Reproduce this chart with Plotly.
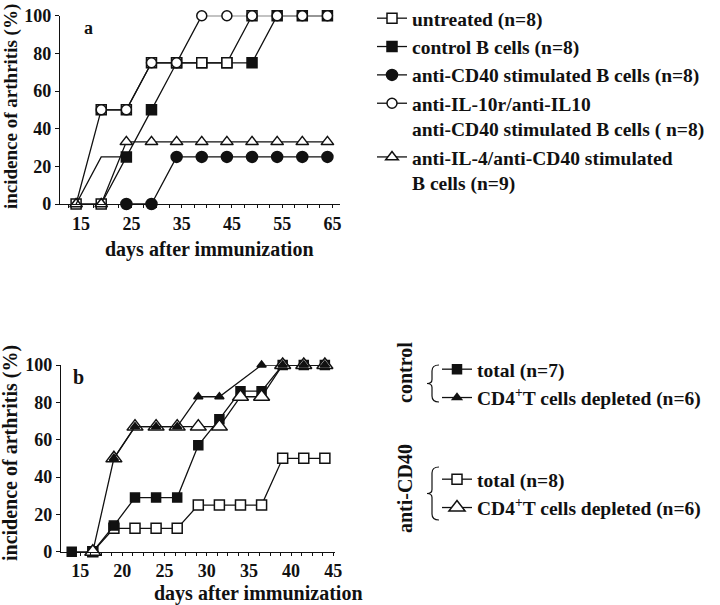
import plotly.graph_objects as go

# ---------------- data : panel a ----------------
days_a = [14, 19, 24, 29, 34, 39, 44, 49, 54, 59, 64]
untreated = [0, 50, 50, 75, 75, 75, 75, 100, None, None, None]
control_b = [None, 0, 25, 50, 75, 75, 75, 75, 100, 100, 100]
anti_cd40 = [None, None, 0, 0, 25, 25, 25, 25, 25, 25, 25]
anti_il10 = [None, 50, 50, 75, 75, 100, 100, 100, 100, 100, 100]
anti_il4 = [0, 0, 33, 33, 33, 33, 33, 33, 33, 33, 33]
stray_days = [14, 19, 24]
stray_vals = [0, 25, 25]
ticks_a = [15, 25, 35, 45, 55, 65]

# ---------------- data : panel b ----------------
days_b = [14, 16.5, 19, 21.5, 24, 26.5, 29, 31.5, 34, 36.5, 39, 41.5, 44]
ctrl_total = [0, 0, 14, 29, 29, 29, 57, 71, 86, 86, 100, 100, 100]
ctrl_cd4 = [None, None, 50, 67, 67, 67, 83, 83, None, 100, 100, 100, 100]
cd40_total = [None, 0, 12.5, 12.5, 12.5, 12.5, 25, 25, 25, 25, 50, 50, 50]
cd40_cd4 = [None, 0, 50, 67, 67, 67, 67, 67, 83, 83, 100, 100, 100]
ticks_b = [15, 20, 25, 30, 35, 40, 45]
yticks = [0, 20, 40, 60, 80, 100]

W, H = 720, 605
FONT = "Liberation Serif"
BLACK = "#111111"


def px(x):
    return x / W


def py(y):
    return 1 - y / H


fig = go.Figure()

LW = 1.3


def add(x, y, name, symbol, size, fill, xa, ya, legend, rank, mcolor=None):
    fig.add_trace(go.Scatter(
        x=x, y=y, name=name, mode="lines+markers", connectgaps=True,
        xaxis=xa, yaxis=ya, legend=legend, legendrank=rank,
        line=dict(color=BLACK, width=LW),
        marker=dict(symbol=symbol, size=size,
                    color=mcolor if mcolor is not None else fill,
                    line=dict(color=BLACK, width=1.5)),
        cliponaxis=False,
    ))


# panel a (draw order chosen to match overlaps)
# control series passed last-to-first so its legend symbol takes the filled style;
# its first point (day 19, hidden under the open symbols) is shown white as in the figure
ctrl_x = days_a[1:][::-1]
ctrl_y = control_b[1:][::-1]
ctrl_colors = [BLACK] * (len(ctrl_x) - 1) + ["white"]
add(ctrl_x, ctrl_y, "control B cells (n=8)", "square", 10, BLACK,
    "x", "y", "legend", 2, mcolor=ctrl_colors)
add(days_a, untreated, "untreated (n=8)", "square", 10, "white", "x", "y", "legend", 1)
add(days_a, anti_cd40, "anti-CD40 stimulated B cells (n=8)", "circle", 11, BLACK,
    "x", "y", "legend", 3)
add(days_a, anti_il10, "anti-IL-10r/anti-IL10<br>anti-CD40 stimulated B cells ( n=8)",
    "circle", 10, "white", "x", "y", "legend", 4)
add(days_a, anti_il4, "anti-IL-4/anti-CD40 stimulated<br>B cells (n=9)",
    "triangle-up", 11, "white", "x", "y", "legend", 5)
fig.add_trace(go.Scatter(x=stray_days, y=stray_vals, mode="lines", showlegend=False,
                         line=dict(color=BLACK, width=LW), xaxis="x", yaxis="y",
                         cliponaxis=False))

# panel b
add(days_b, cd40_total, "total (n=8)", "square", 10, "white", "x2", "y2", "legend3", 1)
add(days_b, ctrl_total, "total (n=7)", "square", 9, BLACK, "x2", "y2", "legend2", 1)
add(days_b, cd40_cd4, "CD4<sup>+</sup>T cells depleted (n=6)", "triangle-up", 14, "white",
    "x2", "y2", "legend3", 2)
add(days_b, ctrl_cd4, "CD4<sup>+</sup>T cells depleted (n=6)", "triangle-up", 8, BLACK,
    "x2", "y2", "legend2", 2)

tickfont = dict(family=FONT, size=18, color=BLACK, weight="bold")
axis_common = dict(showgrid=False, zeroline=False, showline=True, linecolor=BLACK,
                   linewidth=1.3, ticks="outside", tickcolor=BLACK, tickwidth=1.2,
                   tickfont=tickfont, fixedrange=True)

legfont = dict(family=FONT, size=19.5, color=BLACK, weight="bold")

fig.update_layout(
    width=W, height=H, margin=dict(l=0, r=0, t=0, b=0, autoexpand=False),
    paper_bgcolor="white", plot_bgcolor="white",
    font=dict(family=FONT, color=BLACK),
    xaxis=dict(domain=[px(60), px(340)], range=[10.8, 66.5], anchor="y",
               tickvals=ticks_a, ticklen=3,
               minor=dict(dtick=2.5, tick0=15, ticks="outside", ticklen=3,
                          tickcolor=BLACK), **axis_common),
    yaxis=dict(domain=[py(204), py(15.7)], range=[0, 100], anchor="x",
               tickvals=yticks, ticklen=4, **axis_common),
    xaxis2=dict(domain=[px(61), px(335)], range=[12.73, 45.2], anchor="y2",
                tickvals=ticks_b, ticklen=3,
                minor=dict(dtick=1.25, tick0=15, ticks="outside", ticklen=3,
                           tickcolor=BLACK), **axis_common),
    yaxis2=dict(domain=[py(551.7), py(365)], range=[0, 100], anchor="x2",
                tickvals=yticks, ticklen=4, **axis_common),
    legend=dict(x=px(372), y=py(-1), xanchor="left", yanchor="top",
                font=legfont, valign="top", itemsizing="trace",
                bgcolor="rgba(0,0,0,0)", traceorder="normal"),
    legend2=dict(x=px(437), y=py(350), xanchor="left", yanchor="top",
                 font=legfont, itemsizing="trace", bgcolor="rgba(0,0,0,0)"),
    legend3=dict(x=px(437), y=py(460), xanchor="left", yanchor="top",
                 font=legfont, itemsizing="trace", bgcolor="rgba(0,0,0,0)"),
)

bold20 = dict(family=FONT, size=20, color=BLACK, weight="bold")
ann = [
    dict(text="a", x=px(88), y=py(28), font=dict(family=FONT, size=18, color=BLACK, weight="bold")),
    dict(text="b", x=px(78), y=py(377), font=bold20),
    dict(text="incidence of arthritis (%)", x=px(11), y=py(107), textangle=-90,
         font=dict(family=FONT, size=19, color=BLACK, weight="bold")),
    dict(text="incidence of arthritis (%)", x=px(10), y=py(453), textangle=-90, font=bold20),
    dict(text="days after immunization", x=px(209), y=py(249), font=bold20),
    dict(text="days after immunization", x=px(258), y=py(593), font=bold20),
    dict(text="control", x=px(405), y=py(373), textangle=-90, font=bold20),
    dict(text="anti-CD40", x=px(405), y=py(489), textangle=-90, font=bold20),
]
for a in ann:
    fig.add_annotation(xref="paper", yref="paper", showarrow=False,
                       xanchor="center", yanchor="middle", **a)


def brace(xr, xm, xl, top, bot):
    mid = (top + bot) / 2
    pts = [
        ("M", [(xr, top)]),
        ("Q", [(xm, top), (xm, top + 6)]),
        ("L", [(xm, mid - 4)]),
        ("Q", [(xm, mid), (xl, mid)]),
        ("Q", [(xm, mid), (xm, mid + 4)]),
        ("L", [(xm, bot - 6)]),
        ("Q", [(xm, bot), (xr, bot)]),
    ]
    s = ""
    for cmd, coords in pts:
        s += cmd + " " + " ".join(f"{px(x):.5f},{py(y):.5f}" for x, y in coords) + " "
    return s.strip()


fig.add_shape(type="path", xref="paper", yref="paper",
              path=brace(439, 432, 427, 365, 402), line=dict(color=BLACK, width=1.2))
fig.add_shape(type="path", xref="paper", yref="paper",
              path=brace(439, 432, 427, 467, 520), line=dict(color=BLACK, width=1.2))

fig.write_html("out.html",
               config={"displayModeBar": False},
               post_script="document.body.style.margin='0px';"
                           "document.body.style.overflow='hidden';")
